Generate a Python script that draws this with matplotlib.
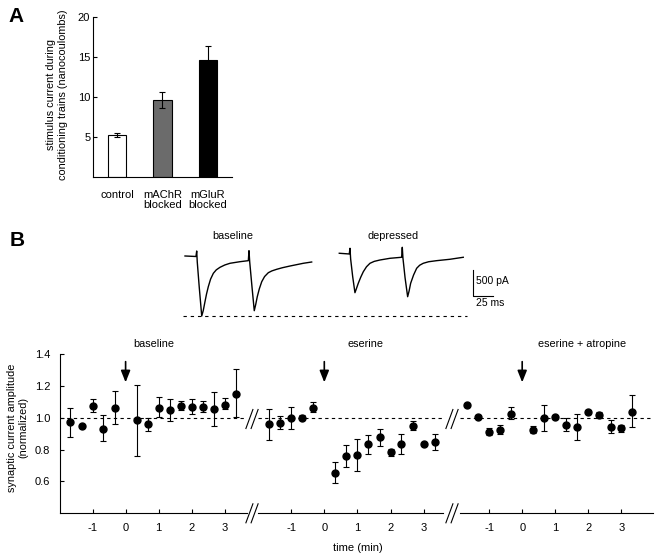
import matplotlib
matplotlib.use('Agg')
import matplotlib.pyplot as plt
from matplotlib.lines import Line2D

plt.rcParams['font.family'] = ['Liberation Sans', 'DejaVu Sans']
plt.rcParams['axes.unicode_minus'] = False
plt.rcParams['font.size'] = 8

# ---------------- data ----------------
# Panel A
a_labels = ['control', 'mAChR\nblocked', 'mGluR\nblocked']
a_values = [5.2, 9.6, 14.6]
a_errors = [0.25, 1.0, 1.8]
a_colors = ['white', '#6b6b6b', 'black']
a_yticks = [5, 10, 15, 20]

# Panel B traces (time in ms, current in pA)
base_t = [0, 13.5, 14.4, 15.1, 17.5, 20.6, 22.5, 24.6, 26.5, 28.7, 31.5, 34.9, 38.5, 43.1,
          49.0, 55.4, 67.7, 78.0, 78.8, 79.7, 82.5, 85.3, 87.0, 89.0, 91.5, 94.5, 98.0,
          102.6, 107.0, 112.9, 120.0, 129.3, 145.7, 156.0]
base_i = [0, -10, 97, -117, -600, -1168, -1060, -889, -740, -597, -450, -337, -270, -220,
          -175, -142, -111, -91, 103, -117, -600, -1064, -950, -792, -640, -500, -400,
          -325, -290, -259, -228, -195, -142, -117]
dep_t = [0, 12.3, 13.2, 14.0, 16.5, 19.3, 21.0, 23.4, 26.5, 29.6, 33.5, 37.8, 43.0, 50.1,
         62.4, 76.8, 77.6, 78.4, 81.0, 84.2, 86.0, 87.9, 91.5, 95.3, 99.0, 103.4, 110.0,
         119.9, 136.3, 152.7]
dep_i = [53, 39, 150, -58, -400, -714, -640, -531, -410, -306, -210, -142, -105, -78,
         -45, -25, 169, -39, -420, -792, -680, -531, -370, -239, -180, -142, -112,
         -91, -64, -25]
scale_ms = 25
scale_pA = 500

# Panel B summary (time in min, normalized amplitude)
times = [-1.67, -1.33, -1.0, -0.67, -0.33, 0.33, 0.67, 1.0, 1.33, 1.67, 2.0, 2.33, 2.67, 3.0, 3.33]
seg_names = ['baseline', 'eserine', 'eserine + atropine']
base_mean = [0.972, 0.951, 1.073, 0.932, 1.063, 0.983, 0.958, 1.063, 1.046, 1.071, 1.069, 1.069, 1.054, 1.082, 1.152]
base_hi = [1.061, 0.951, 1.118, 1.016, 1.168, 1.206, 1.000, 1.128, 1.116, 1.105, 1.120, 1.107, 1.160, 1.126, 1.305]
base_lo = [0.880, 0.951, 1.038, 0.852, 0.962, 0.762, 0.916, 1.006, 0.977, 1.048, 1.023, 1.038, 0.951, 1.052, 1.004]
eser_mean = [0.958, 0.968, 1.000, 0.998, 1.063, 0.656, 0.760, 0.768, 0.836, 0.877, 0.783, 0.836, 0.947, 0.836, 0.848]
eser_hi = [1.052, 1.013, 1.067, 1.015, 1.101, 0.722, 0.829, 0.867, 0.893, 0.930, 0.804, 0.897, 0.977, 0.836, 0.897]
eser_lo = [0.863, 0.931, 0.932, 0.983, 1.038, 0.589, 0.688, 0.665, 0.775, 0.825, 0.760, 0.775, 0.920, 0.836, 0.800]
atro_mean = [1.080, 1.006, 0.908, 0.922, 1.025, 0.924, 0.996, 1.004, 0.956, 0.941, 1.038, 1.015, 0.941, 0.933, 1.038]
atro_hi = [1.080, 1.016, 0.937, 0.954, 1.068, 0.947, 1.078, 1.004, 1.000, 1.021, 1.051, 1.038, 0.985, 0.956, 1.141]
atro_lo = [1.080, 0.996, 0.889, 0.895, 0.994, 0.903, 0.916, 1.004, 0.916, 0.861, 1.021, 0.996, 0.905, 0.911, 0.941]
b_yticks = [0.6, 0.8, 1.0, 1.2, 1.4]
b_xticks = [-1, 0, 1, 2, 3]

# ---------------- layout helpers ----------------
W, H = 662, 559
fig = plt.figure(figsize=(W / 100, H / 100), dpi=100)


def rect(x0, y0, x1, y1):
    return [x0 / W, 1 - y1 / H, (x1 - x0) / W, (y1 - y0) / H]


def ftext(px, py, s, **kw):
    fig.text(px / W, 1 - py / H, s, **kw)


def fline(xs, ys, **kw):
    fig.add_artist(Line2D([x / W for x in xs], [1 - y / H for y in ys], color='black', **kw))


LW = 0.8

# ---------------- Panel A ----------------
axA = fig.add_axes(rect(93, 17, 232, 177))
xpos = list(range(len(a_values)))
axA.bar(xpos, a_values, width=0.4, color=a_colors, edgecolor='black', linewidth=LW, zorder=2)
axA.errorbar(xpos, a_values, yerr=a_errors, fmt='none', ecolor='black', elinewidth=LW,
             capsize=2.5, capthick=LW, zorder=3)
axA.set_xlim(-0.527, 2.527)
axA.set_ylim(0, 20)
axA.set_yticks(a_yticks)
axA.set_yticklabels([str(v) for v in a_yticks])
axA.set_xticks(xpos)
axA.set_xticklabels(a_labels, linespacing=1.1)
axA.tick_params(axis='x', length=0, pad=9, labelsize=8)
axA.tick_params(axis='y', direction='in', length=3, width=LW, pad=2, labelsize=8)
for s in ['top', 'right']:
    axA.spines[s].set_visible(False)
for s in ['left', 'bottom']:
    axA.spines[s].set_linewidth(LW)
ftext(57, 95, 'stimulus current during\nconditioning trains (nanocoulombs)', rotation=90,
      ha='center', va='center', fontsize=7.8, linespacing=1.15)
ftext(16, 17, 'A', fontsize=15, fontweight='bold', ha='center', va='center')
ftext(17, 241, 'B', fontsize=15, fontweight='bold', ha='center', va='center')

# ---------------- Panel B traces ----------------
axT = fig.add_axes(rect(180, 240, 505, 322))
axT.set_xlim(-6.16, 394.1)
axT.set_ylim(-1284, 311)
axT.axis('off')
dep_offset = 190
axT.plot(base_t, base_i, color='black', lw=1.0)
axT.plot([t + dep_offset for t in dep_t], dep_i, color='black', lw=1.0)
axT.hlines(min(base_i), -2, 347, colors='black', linestyles=(0, (3.0, 3.5)), lw=LW)
sb_x, sb_y = 354.3, -772
axT.plot([sb_x, sb_x, sb_x + scale_ms], [sb_y + scale_pA, sb_y, sb_y], color='black', lw=LW)
ftext(476, 281, '500 pA', ha='left', va='center', fontsize=7.5)
ftext(476, 303, '25 ms', ha='left', va='center', fontsize=7.5)
ftext(233, 236, 'baseline', ha='center', va='center', fontsize=7.8)
ftext(393, 236, 'depressed', ha='center', va='center', fontsize=7.8)

# ---------------- Panel B summary ----------------
seg_rects = [(60, 246.7), (258, 442.7), (460, 653)]
seg_xlims = [(-1.982, 3.659), (-2.003, 3.577), (-1.879, 3.952)]
seg_data = [(base_mean, base_lo, base_hi), (eser_mean, eser_lo, eser_hi), (atro_mean, atro_lo, atro_hi)]
seg_label_x = [154, 366, 582]
axes_b = []
for k in range(3):
    x0, x1 = seg_rects[k]
    ax = fig.add_axes(rect(x0, 354, x1, 513.3))
    axes_b.append(ax)
    mean, lo, hi = seg_data[k]
    yerr = [[m - l for m, l in zip(mean, lo)], [h - m for m, h in zip(mean, hi)]]
    ax.axhline(1.0, color='black', lw=LW, linestyle=(0, (3.0, 3.0)), zorder=1)
    ax.errorbar(times, mean, yerr=yerr, fmt='o', color='black', markersize=5,
                elinewidth=LW, capsize=2.2, capthick=LW, clip_on=False, zorder=3)
    ax.set_xlim(*seg_xlims[k])
    ax.set_ylim(0.4, 1.4)
    ax.set_xticks(b_xticks)
    ax.set_xticklabels([str(v) for v in b_xticks])
    ax.tick_params(axis='x', direction='in', length=3, width=LW, pad=7, labelsize=8)
    ax.spines['top'].set_visible(False)
    ax.spines['right'].set_visible(False)
    ax.spines['bottom'].set_linewidth(LW)
    if k == 0:
        ax.set_yticks(b_yticks)
        ax.set_yticklabels(['%.1f' % v for v in b_yticks])
        ax.tick_params(axis='y', direction='in', length=3, width=LW, pad=7, labelsize=8)
        ax.spines['left'].set_linewidth(LW)
    else:
        ax.set_yticks([])
        ax.spines['left'].set_visible(False)
    ax.patch.set_alpha(0)
    ax.annotate('', xy=(0, 1.222), xytext=(0, 1.352),
                arrowprops=dict(arrowstyle='-|>,head_length=0.7,head_width=0.28',
                                mutation_scale=10, color='black', lw=1.2,
                                shrinkA=0, shrinkB=0),
                annotation_clip=False)
    ftext(seg_label_x[k], 344, seg_names[k], ha='center', va='center', fontsize=7.8)

ftext(18, 428, 'synaptic current amplitude\n(normalized)', rotation=90, ha='center',
      va='center', fontsize=7.8, linespacing=1.15)
ftext(358, 548, 'time (min)', ha='center', va='center', fontsize=8)

# axis breaks
for cx in (252, 452):
    for cy in (419, 513.3):
        for dx in (-2.6, 2.6):
            fline([cx + dx - 3.5, cx + dx + 3.5], [cy + 9.5, cy - 9.5], lw=LW)

fig.savefig('out.png', dpi=100)
